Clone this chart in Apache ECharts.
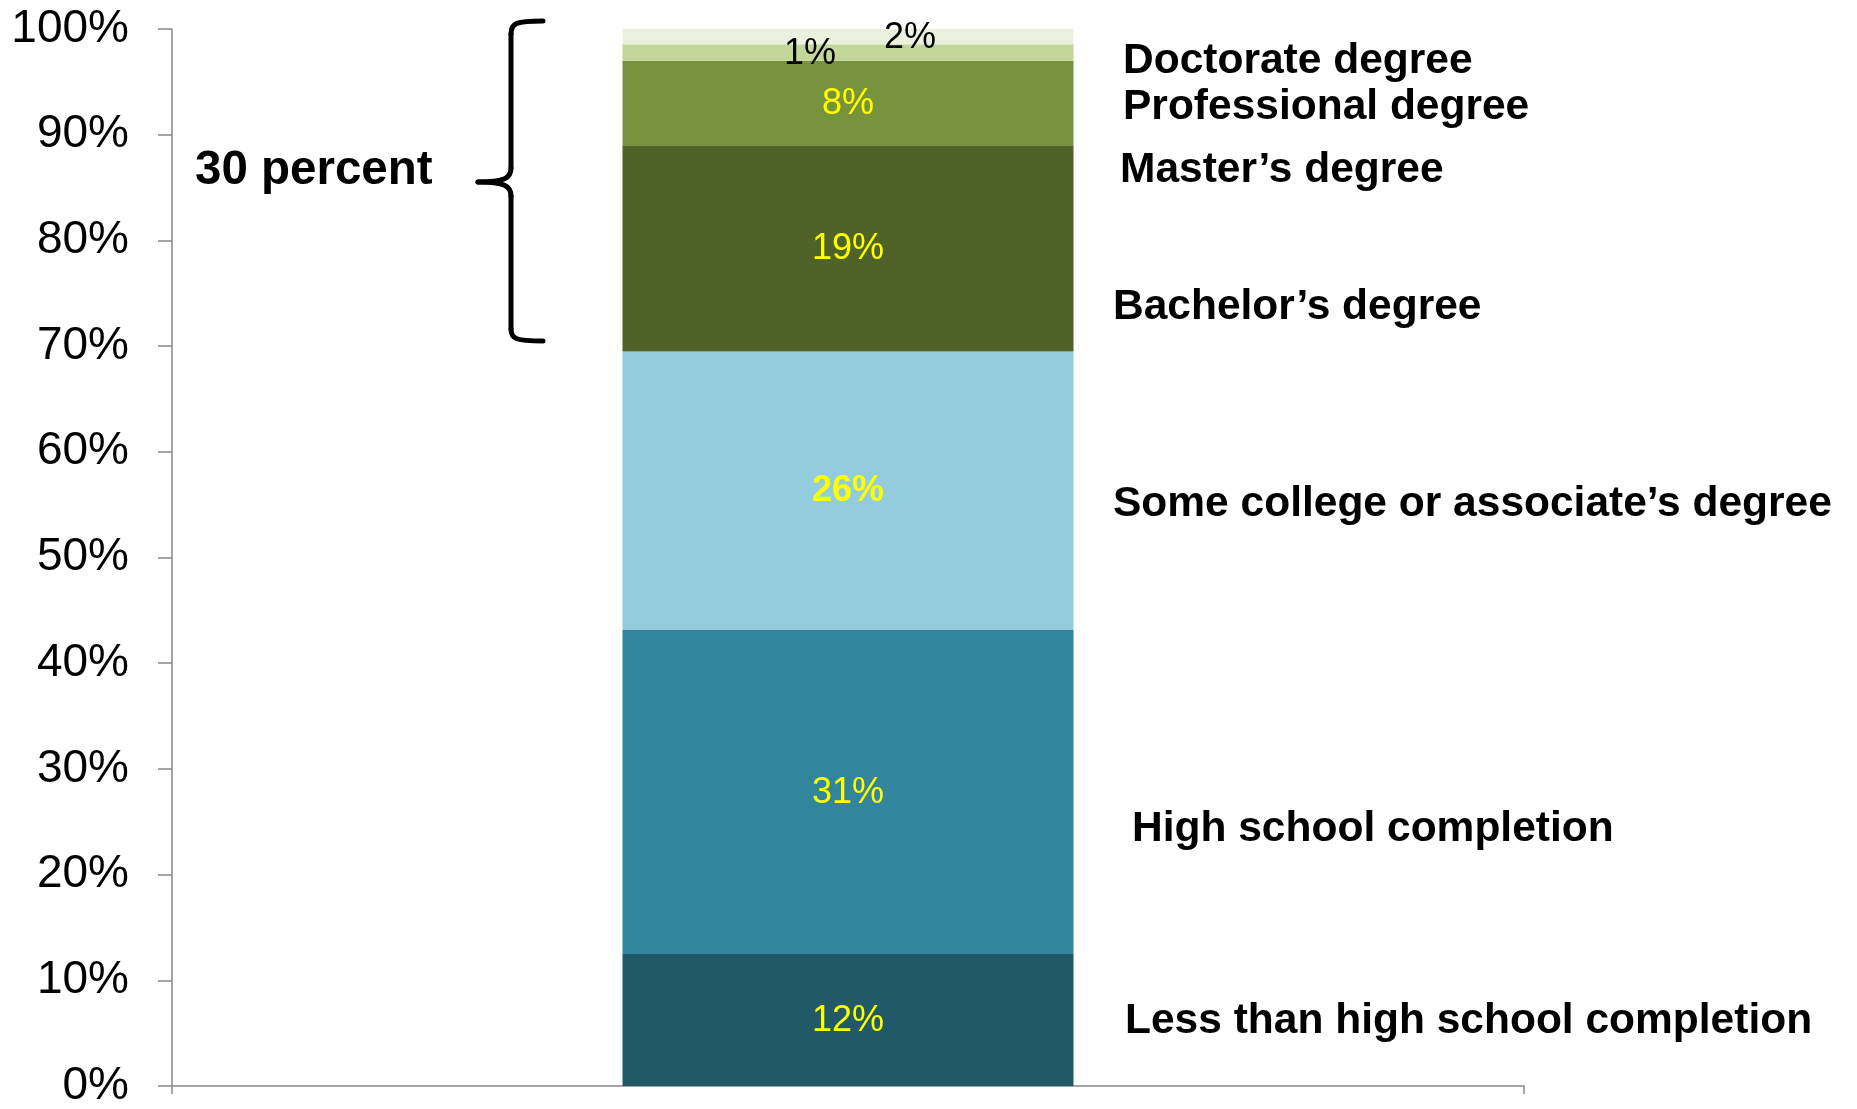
<!DOCTYPE html>
<html>
<head>
<meta charset="utf-8">
<style>
  html, body { margin: 0; padding: 0; background: #fff; }
  #chart { width: 1857px; height: 1109px; }
</style>
<script src="https://cdn.jsdelivr.net/npm/echarts@6/dist/echarts.min.js"></script>
</head>
<body>
<div id="chart"></div>
<script>
// ---- data (bottom to top) ----
const categories = [''];
const seriesNames = [
  'Less than high school completion',
  'High school completion',
  'Some college or associate\u2019s degree',
  'Bachelor\u2019s degree',
  'Master\u2019s degree',
  'Professional degree',
  'Doctorate degree'
];
const seriesValues = [12.5, 30.7, 26.3, 19.5, 8.0, 1.55, 1.45];
const seriesLabels = ['12%', '31%', '26%', '19%', '8%', '1%', '2%'];
const seriesColors = ['#215968', '#31859C', '#93CDDD', '#4F6228', '#77933C', '#C4D79B', '#EBF1DE'];
const yTickValues = [0, 10, 20, 30, 40, 50, 60, 70, 80, 90, 100];
const bracketText = '30 percent';

const FONT = "'Liberation Sans', Arial, Helvetica, sans-serif";

// label style tweaks per series (not data)
const labelStyles = [
  { color: '#FFFF00', fontWeight: 'normal', offset: [0, 1] },
  { color: '#FFFF00', fontWeight: 'normal', offset: [0, 1] },
  { color: '#FFFF00', fontWeight: 'bold', offset: [0, 1] },
  { color: '#FFFF00', fontWeight: 'normal', offset: [0, 1] },
  { color: '#FFFF00', fontWeight: 'normal', offset: [0, 1] },
  { color: '#000000', fontWeight: 'normal', offset: [-38, 2] },
  { color: '#000000', fontWeight: 'normal', offset: [62, 1] }
];

const series = seriesNames.map((name, i) => ({
  name: name,
  type: 'bar',
  stack: 'total',
  barWidth: 451,
  data: [seriesValues[i]],
  itemStyle: { color: seriesColors[i] },
  label: {
    show: true,
    position: 'inside',
    formatter: () => seriesLabels[i],
    color: labelStyles[i].color,
    fontWeight: labelStyles[i].fontWeight,
    fontFamily: FONT,
    fontSize: 36,
    offset: labelStyles[i].offset
  },
  emphasis: { disabled: true },
  animation: false
}));

// right-side category names (positions are annotation layout)
const rightLabelPos = [
  [1125, 1021],
  [1132, 829],
  [1113, 504],
  [1113, 307],
  [1120, 170],
  [1123, 107],
  [1123, 61]
];

const graphics = seriesNames.map((name, i) => ({
  type: 'text',
  x: rightLabelPos[i][0],
  y: rightLabelPos[i][1],
  style: {
    text: name,
    x: 0, y: 0,
    font: 'bold 42.5px ' + FONT,
    fill: '#000',
    textAlign: 'left', align: 'left',
    textVerticalAlign: 'middle', verticalAlign: 'middle'
  },
  silent: true
}));

graphics.push({
  type: 'text',
  x: 195, y: 171,
  style: {
    text: bracketText,
    x: 0, y: 0,
    font: 'bold 47.5px ' + FONT,
    fill: '#000',
    textAlign: 'left', align: 'left',
    textVerticalAlign: 'middle', verticalAlign: 'middle'
  },
  silent: true
});

// curly brace drawn from simple elements
const braceStyle = { stroke: '#000', lineWidth: 5, fill: null, lineCap: 'round' };
const braceParts = [
  { type: 'bezierCurve', shape: { x1: 543, y1: 21, cpx1: 516, cpy1: 21, cpx2: 511, cpy2: 23, x2: 511, y2: 34 } },
  { type: 'line', shape: { x1: 511, y1: 34, x2: 511, y2: 168 } },
  { type: 'bezierCurve', shape: { x1: 511, y1: 168, cpx1: 511, cpy1: 178, cpx2: 505, cpy2: 182, x2: 478, y2: 182 } },
  { type: 'bezierCurve', shape: { x1: 478, y1: 182, cpx1: 505, cpy1: 182, cpx2: 511, cpy2: 186, x2: 511, y2: 196 } },
  { type: 'line', shape: { x1: 511, y1: 196, x2: 511, y2: 329 } },
  { type: 'bezierCurve', shape: { x1: 511, y1: 329, cpx1: 511, cpy1: 339, cpx2: 516, cpy2: 341, x2: 543, y2: 341 } }
];
braceParts.forEach(p => graphics.push(Object.assign({ style: braceStyle, silent: true }, p)));

const chart = echarts.init(document.getElementById('chart'), null, { renderer: 'canvas' });
chart.setOption({
  animation: false,
  backgroundColor: '#fff',
  grid: { left: 172, right: 333, top: 29, bottom: 18, containLabel: false },
  xAxis: {
    type: 'category',
    data: categories,
    boundaryGap: true,
    axisLine: { lineStyle: { color: '#888', width: 1.5 } },
    axisTick: { show: true, length: 8, lineStyle: { color: '#888', width: 1.5 } },
    axisLabel: { show: false },
    splitLine: { show: false }
  },
  yAxis: {
    type: 'value',
    min: yTickValues[0],
    max: yTickValues[yTickValues.length - 1],
    interval: yTickValues[1] - yTickValues[0],
    axisLine: { show: true, lineStyle: { color: '#888', width: 1.5 } },
    axisTick: { show: true, length: 14, lineStyle: { color: '#888', width: 1.5 } },
    axisLabel: {
      formatter: '{value}%',
      fontFamily: FONT,
      fontSize: 46,
      color: '#000',
      margin: 43
    },
    splitLine: { show: false }
  },
  series: series,
  graphic: graphics
});
</script>
</body>
</html>
